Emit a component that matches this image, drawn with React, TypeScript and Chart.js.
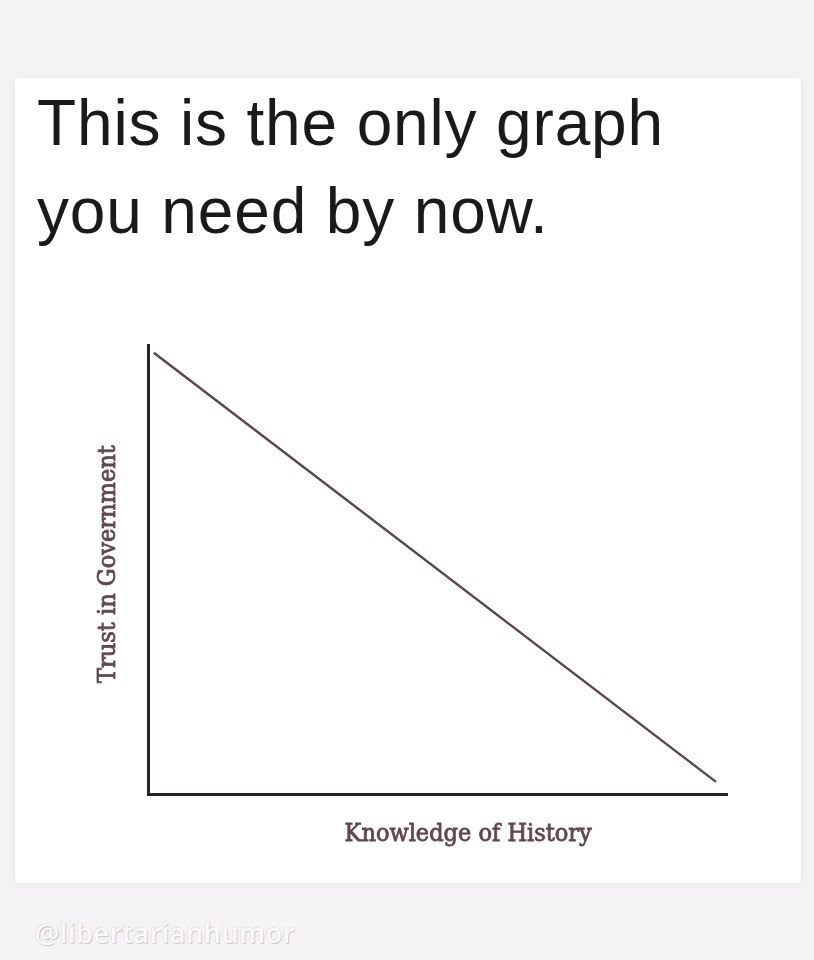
import React, { useEffect, useRef } from "react";
import { Chart, registerables } from "chart.js";

Chart.register(...registerables);

const titleLines = ["This is the only graph", "you need by now."];
const xAxisLabel = "Knowledge of History";
const yAxisLabel = "Trust in Government";
const watermark = "@libertarianhumor";

// Line endpoints (x: knowledge 0–100, y: trust 0–100)
const knowledge = [1.0, 98.1];
const trust = [98.3, 2.7];

const LABEL_FONT = "25px 'DejaVu Serif Condensed', 'DejaVu Serif', serif";
const LABEL_COLOR = "#61474e";

const axisLabelsPlugin = {
  id: "axisLabels",
  afterDraw(chart: any) {
    const { ctx, chartArea } = chart;
    const { left, right, top, bottom } = chartArea;
    ctx.save();
    ctx.font = LABEL_FONT;
    ctx.fillStyle = LABEL_COLOR;
    ctx.strokeStyle = LABEL_COLOR;
    ctx.lineWidth = 0.8;
    ctx.textAlign = "center";
    ctx.textBaseline = "alphabetic";
    // x axis label
    const xx = left + 0.553 * (right - left);
    const xy = bottom + 47;
    ctx.fillText(xAxisLabel, xx, xy);
    ctx.strokeText(xAxisLabel, xx, xy);
    // y axis label (rotated)
    ctx.translate(left - 33, top + 0.488 * (bottom - top));
    ctx.rotate(-Math.PI / 2);
    ctx.fillText(yAxisLabel, 0, 0);
    ctx.strokeText(yAxisLabel, 0, 0);
    ctx.restore();
  },
};

export default function App() {
  const ref = useRef<HTMLCanvasElement | null>(null);

  useEffect(() => {
    if (!ref.current) return;
    const points = knowledge.map((x, i) => ({ x, y: trust[i] }));
    const chart = new Chart(ref.current, {
      type: "line",
      data: {
        datasets: [
          {
            data: points,
            borderColor: "#5d464b",
            borderWidth: 2.5,
            pointRadius: 0,
            fill: false,
            tension: 0,
          },
        ],
      },
      options: {
        animation: false,
        responsive: false,
        maintainAspectRatio: false,
        layout: { padding: { left: 88, right: 33, top: 15, bottom: 66 } },
        plugins: { legend: { display: false }, tooltip: { enabled: false } },
        scales: {
          x: {
            type: "linear",
            min: 0,
            max: 100,
            grid: { display: false, drawTicks: false },
            ticks: { display: false },
            border: { display: true, color: "#262223", width: 3 },
            title: { display: false, text: xAxisLabel },
          },
          y: {
            type: "linear",
            min: 0,
            max: 100,
            grid: { display: false, drawTicks: false },
            ticks: { display: false },
            border: { display: true, color: "#262223", width: 3 },
            title: { display: false, text: yAxisLabel },
          },
        },
      },
      plugins: [axisLabelsPlugin],
    });
    return () => chart.destroy();
  }, []);

  return (
    <div
      style={{
        position: "fixed",
        left: 0,
        top: 0,
        width: 814,
        height: 960,
        background: "#f5f3f5",
        overflow: "hidden",
      }}
    >
      <div
        style={{
          position: "absolute",
          left: 15,
          top: 78,
          width: 786,
          height: 805,
          background: "#ffffff",
          boxShadow: "0 0 10px rgba(0,0,0,0.06)",
        }}
      />
      <div
        style={{
          position: "absolute",
          left: 37,
          top: 79,
          fontFamily: "'Liberation Sans Narrow', 'Liberation Sans', sans-serif",
          fontSize: 64,
          lineHeight: "88px",
          letterSpacing: "0.85px",
          color: "#1a1a1a",
          whiteSpace: "nowrap",
        }}
      >
        {titleLines.map((t, i) => (
          <div key={i}>{t}</div>
        ))}
      </div>
      <canvas
        ref={ref}
        width={700}
        height={530}
        style={{ position: "absolute", left: 60, top: 330, width: 700, height: 530 }}
      />
      <div
        style={{
          position: "absolute",
          left: 35,
          top: 915,
          fontFamily: "'Open Sans', 'DejaVu Sans', sans-serif",
          fontSize: 27,
          fontWeight: 600,
          lineHeight: "36px",
          letterSpacing: "0.6px",
          color: "#fcfafc",
          textShadow: "1px 1px 1px rgba(0,0,0,0.18), -1px -1px 1px rgba(0,0,0,0.06)",
          whiteSpace: "nowrap",
        }}
      >
        {watermark}
      </div>
    </div>
  );
}
